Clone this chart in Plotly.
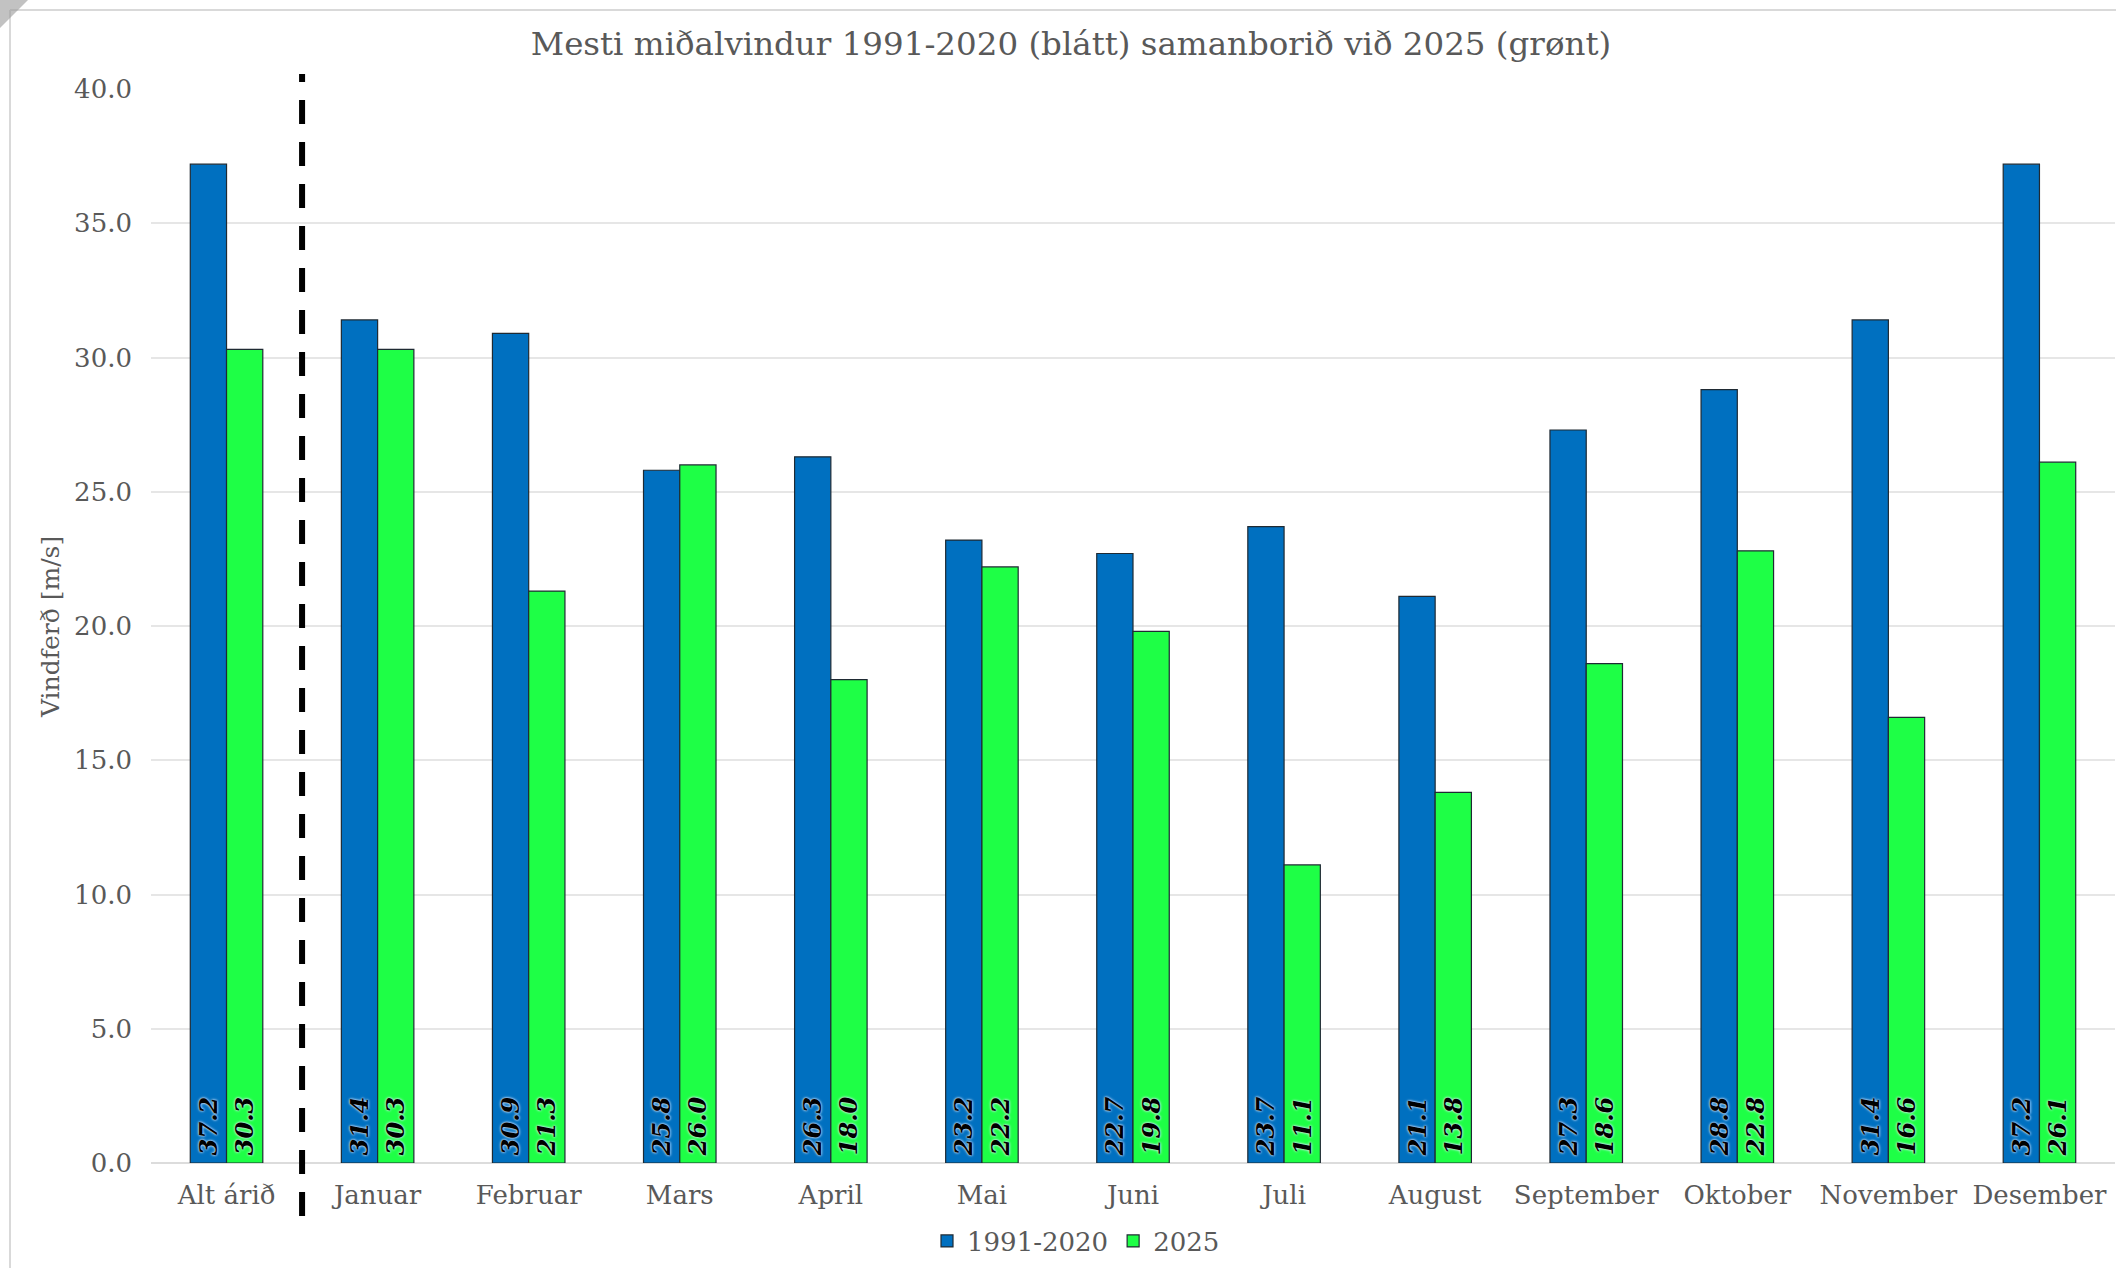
import plotly.graph_objects as go

categories = ["Alt árið", "Januar", "Februar", "Mars", "April", "Mai", "Juni",
              "Juli", "August", "September", "Oktober", "November", "Desember"]
normal_1991_2020 = [37.2, 31.4, 30.9, 25.8, 26.3, 23.2, 22.7, 23.7, 21.1, 27.3, 28.8, 31.4, 37.2]
year_2025 = [30.3, 30.3, 21.3, 26.0, 18.0, 22.2, 19.8, 11.1, 13.8, 18.6, 22.8, 16.6, 26.1]
y_ticks = [0, 5, 10, 15, 20, 25, 30, 35, 40]
y_tick_labels = [f"{v:.1f}" for v in y_ticks]

W, H = 2116, 1268
L, R, T, B = 151, 1, 89, 105
pw, ph = W - L - R, H - T - B

def px(xp):
    return (xp - L) / pw

def py(yp):
    return (H - B - yp) / ph

FONT = "DejaVu Serif"
GREY = "#595959"

label_font = dict(family=FONT, size=24, color="black", weight="bold", style="italic",
                  shadow="0px 0px 3px #dfeaff, 0px 0px 2px #dfeaff")

def labels(values):
    return ["\u2009" + f"{v:.1f}" for v in values]

fig = go.Figure()
fig.add_trace(go.Bar(
    name="1991-2020", x=categories, y=normal_1991_2020,
    marker=dict(color="#0070C0", line=dict(color="#1f2a33", width=1.2)),
    text=labels(normal_1991_2020),
    textposition="inside", insidetextanchor="start", textangle=-90,
    textfont=label_font, constraintext="none", cliponaxis=False,
))
fig.add_trace(go.Bar(
    name="2025", x=categories, y=year_2025,
    marker=dict(color="#1EFF46", line=dict(color="#1f2a33", width=1.2)),
    text=labels(year_2025),
    textposition="inside", insidetextanchor="start", textangle=-90,
    textfont=label_font, constraintext="none", cliponaxis=False,
))

shapes = [
    # dashed separator between "Alt árið" and months
    dict(type="line", xref="x", yref="paper", x0=0.5, x1=0.5, y0=py(1216), y1=py(74),
         line=dict(color="black", width=6, dash="24px,18px")),
    # outer frame
    dict(type="line", xref="paper", yref="paper", x0=px(10), x1=px(10), y0=py(1268), y1=py(10),
         line=dict(color="#D9D9D9", width=2)),
    dict(type="line", xref="paper", yref="paper", x0=px(10), x1=px(2116), y0=py(10), y1=py(10),
         line=dict(color="#D9D9D9", width=2)),
    # corner fold
    dict(type="path", xref="paper", yref="paper",
         path=f"M {px(0)} {py(0)} L {px(28)} {py(0)} L {px(0)} {py(28)} Z",
         fillcolor="#9a9a9a", line=dict(width=0), opacity=0.6),
]

fig.update_layout(
    width=W, height=H,
    margin=dict(l=L, r=R, t=T, b=B, pad=0),
    paper_bgcolor="white", plot_bgcolor="white",
    barmode="group", bargap=0.52, bargroupgap=0,
    font=dict(family=FONT, size=26, color=GREY),
    title=dict(text="Mesti miðalvindur 1991-2020 (blátt) samanborið við 2025 (grønt)",
               x=px(1071), xref="paper", xanchor="center",
               y=1 - 44 / H, yref="container", yanchor="middle",
               font=dict(family=FONT, size=32.5, color=GREY)),
    showlegend=True,
    legend=dict(orientation="h", x=px(1076), xanchor="center", y=py(1241), yanchor="middle",
                font=dict(family=FONT, size=26, color=GREY), itemwidth=30,
                bgcolor="rgba(0,0,0,0)"),
    xaxis=dict(type="category", showgrid=False, showline=False, zeroline=False,
               ticks="", tickfont=dict(family=FONT, size=26, color=GREY),
               ticklabelstandoff=14),
    yaxis=dict(range=[0, 40], tickvals=y_ticks, ticktext=y_tick_labels,
               showgrid=True, gridcolor="#E6E6E6", gridwidth=1.5,
               zeroline=True, zerolinecolor="#DCDCDC", zerolinewidth=2,
               showline=False, ticks="", tickfont=dict(family=FONT, size=26, color=GREY),
               ticklabelstandoff=18),
    shapes=shapes,
    annotations=[dict(text="Vindferð [m/s]", xref="paper", yref="paper",
                      x=px(50), y=py(627), xanchor="center", yanchor="middle",
                      textangle=-90, showarrow=False,
                      font=dict(family=FONT, size=25, color=GREY))],
)

fig.write_html("out.html", config={"displayModeBar": False},
               post_script="document.body.style.margin='0';")
